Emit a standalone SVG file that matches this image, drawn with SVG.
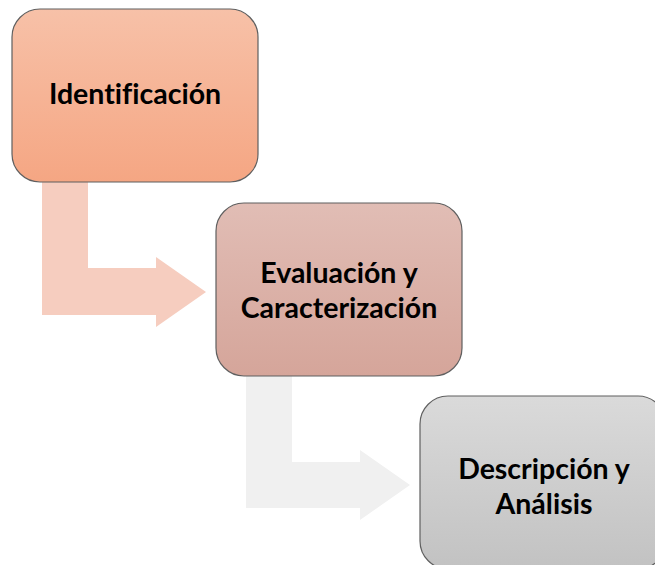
<svg xmlns="http://www.w3.org/2000/svg" width="655" height="565" viewBox="0 0 655 565">
  <defs>
    <linearGradient id="g1" x1="0" y1="0" x2="0" y2="1">
      <stop offset="0" stop-color="#f7c1a8"/>
      <stop offset="1" stop-color="#f5a683"/>
    </linearGradient>
    <linearGradient id="g2" x1="0" y1="0" x2="0" y2="1">
      <stop offset="0" stop-color="#e1bdb5"/>
      <stop offset="1" stop-color="#d5a59a"/>
    </linearGradient>
    <linearGradient id="g3" x1="0" y1="0" x2="0" y2="1">
      <stop offset="0" stop-color="#dadada"/>
      <stop offset="1" stop-color="#c2c2c2"/>
    </linearGradient>
  </defs>
  <style>
    .box { stroke: #5f5f5f; stroke-width: 1.2; }
    .lbl { font-family: Lato, "Open Sans", "Liberation Sans", sans-serif; font-weight: bold; font-size: 28.5px; fill: #000; text-anchor: middle; font-variant-ligatures: none; }
  </style>
  <rect width="655" height="565" fill="#ffffff"/>
  <g id="connectors">
    <path d="M42,182 H88 V268 H156 V257 L206,292 L156,327 V315 H42 Z" fill="#f6cdbf"/>
    <path d="M246,376 H292 V462 H360 V450 L410,485 L360,520 V508 H246 Z" fill="#f0f0f0"/>
  </g>
  <g id="node1">
    <rect class="box" x="12" y="9" width="246" height="173" rx="28" fill="url(#g1)"/>
    <text class="lbl" x="135" y="104">Identificación</text>
  </g>
  <g id="node2">
    <rect class="box" x="216" y="203" width="246" height="173" rx="28" fill="url(#g2)"/>
    <text class="lbl" x="339" y="283">Evaluación y</text>
    <text class="lbl" x="339" y="318">Caracterización</text>
  </g>
  <g id="node3">
    <rect class="box" x="420" y="396" width="246" height="173" rx="28" fill="url(#g3)"/>
    <text class="lbl" x="544" y="479">Descripción y</text>
    <text class="lbl" x="544" y="514">Análisis</text>
  </g>
</svg>
